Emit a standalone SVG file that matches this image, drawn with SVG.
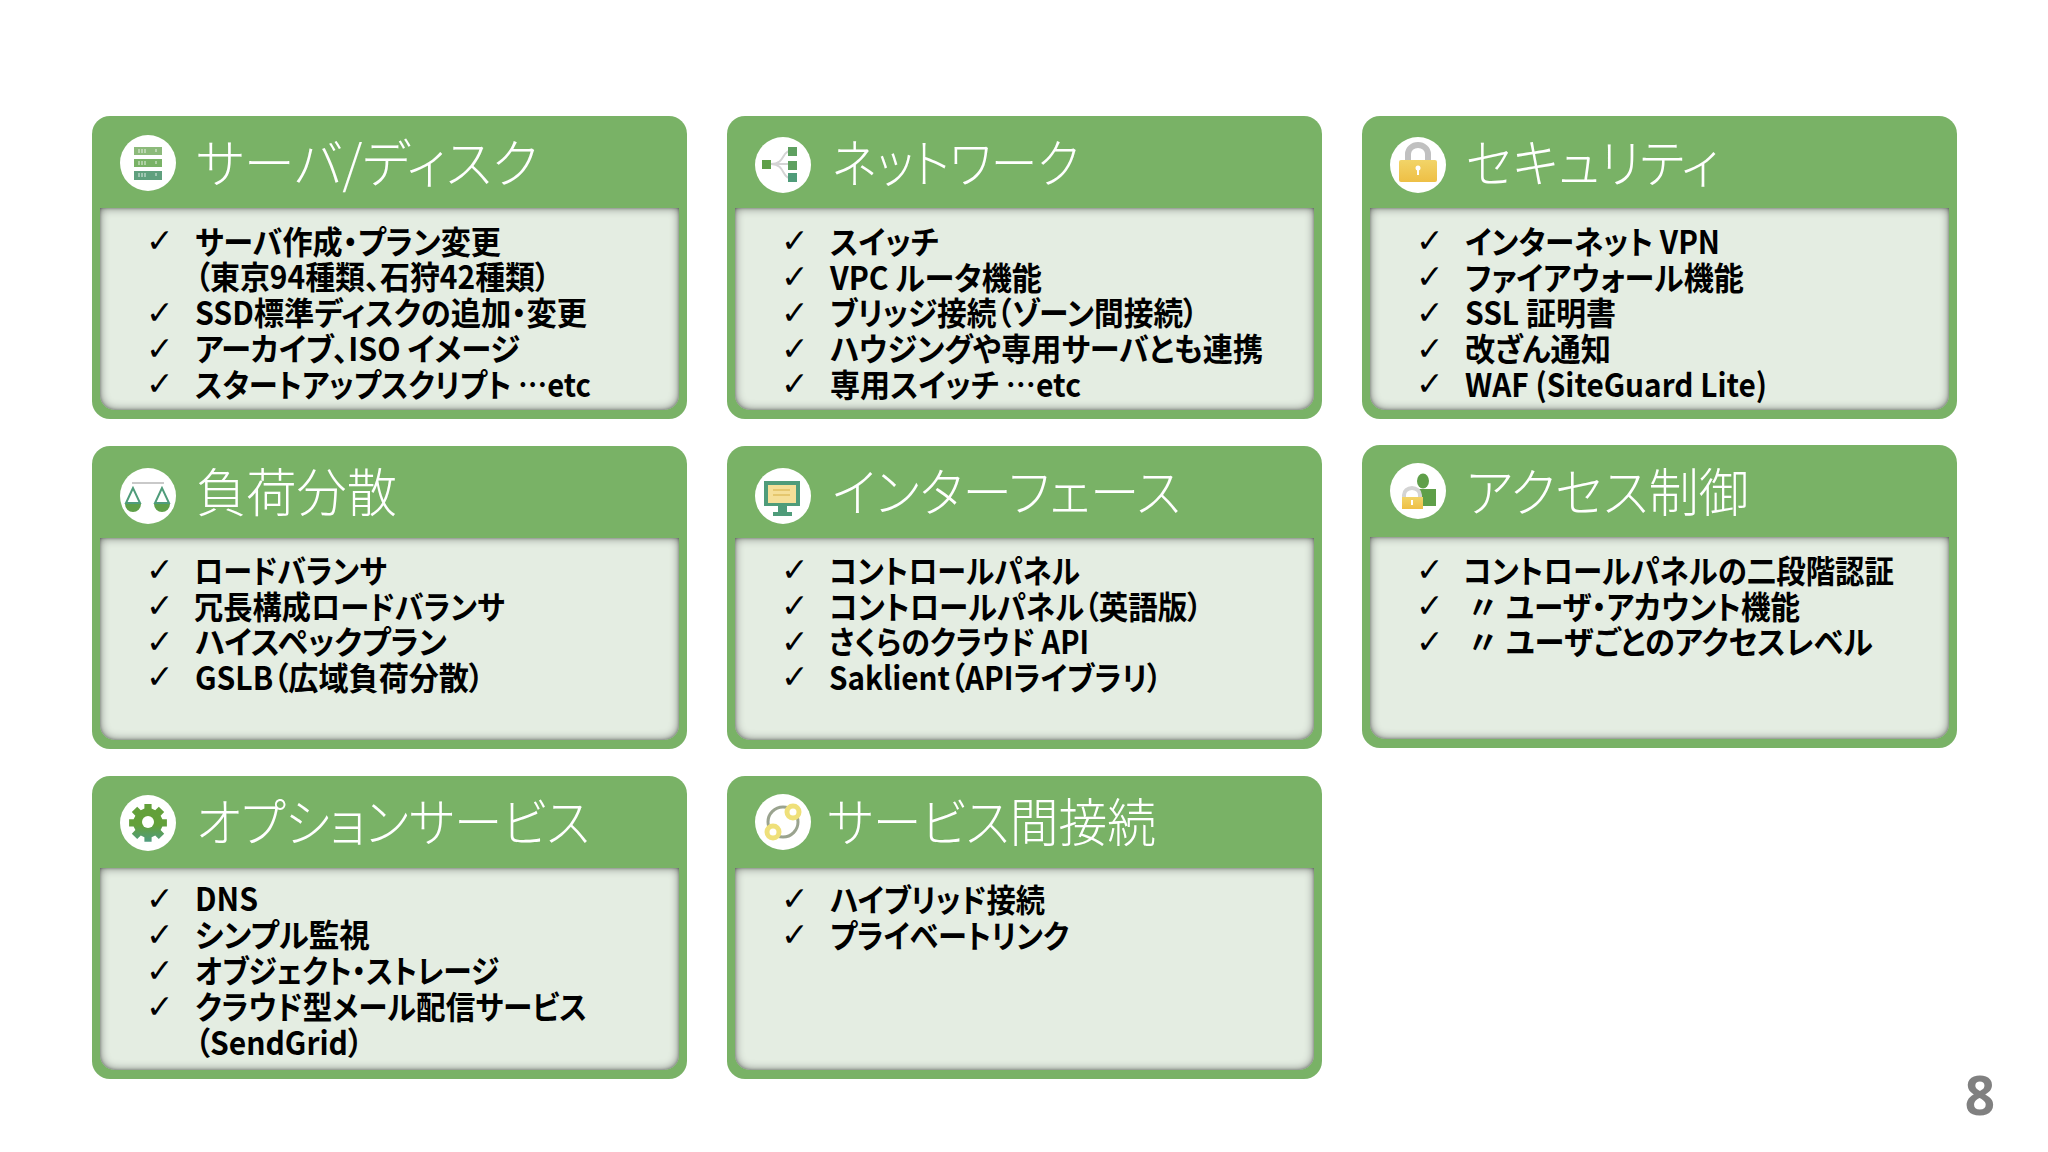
<svg xmlns="http://www.w3.org/2000/svg" width="2048" height="1152" viewBox="0 0 2048 1152" lang="ja">
<style>
text{font-family:"Noto Sans CJK JP","Noto Sans",sans-serif;font-feature-settings:"palt"}
.t{font-size:52px;font-weight:300;fill:#fff}
.i{font-size:32px;font-weight:700;fill:#000}
.c{font-size:33px;font-family:"DejaVu Sans",sans-serif;fill:#000}
.h{fill:#79b266}
.p{fill:#e4ede2}
.w{fill:#fff}
.g1{fill:#5f9f49}
.g2{fill:#4f9c7a}
.l{fill:none;stroke:#d4d4d4;stroke-width:2}
</style>
<defs>
<filter id="inset" x="-5%" y="-10%" width="110%" height="120%">
<feFlood flood-color="#1e1e1e" flood-opacity="1" result="f"/>
<feComposite in="f" in2="SourceAlpha" operator="out" result="o"/>
<feGaussianBlur in="o" stdDeviation="5" result="b"/>
<feComposite in="b" in2="SourceAlpha" operator="in" result="s"/>
<feGaussianBlur in="o" stdDeviation="1.500" result="b2"/>
<feComposite in="b2" in2="SourceAlpha" operator="in" result="s2"/>
<feComponentTransfer in="s2" result="s3"><feFuncA type="linear" slope="0.55"/></feComponentTransfer>
<feMerge><feMergeNode in="SourceGraphic"/><feMergeNode in="s"/><feMergeNode in="s3"/></feMerge>
</filter>
<linearGradient id="gear" x1="0" y1="0" x2="0" y2="1"><stop offset="0" stop-color="#63a03a"/><stop offset=".55" stop-color="#63a03a"/><stop offset="1" stop-color="#509c80"/></linearGradient>
<linearGradient id="lock" x1="0" y1="0" x2="0" y2="1"><stop offset="0" stop-color="#f2d468"/><stop offset="1" stop-color="#eebf45"/></linearGradient>
<g id="card">
<rect class="h" x="0" y="0" width="595" height="303" rx="18"/>
<path class="p" filter="url(#inset)" d="M8 92H587V279a15 15 0 0 1-15 15H23a15 15 0 0 1-15-15Z"/>
</g>
</defs>

<g id="connectors"/>

<g id="server-disk">
<use href="#card" x="92" y="116"/>
<circle class="w" cx="148" cy="163" r="28"/>
<rect x="134" y="147" width="28" height="8" fill="#8cba7a"/><rect x="134" y="159" width="28" height="8" fill="#79b266"/><rect x="134" y="171" width="28" height="9" fill="#5fa07e"/>
<path d="M139 149v4M142 149v4M145 149v4M156 149v3M139 161v4M142 161v4M145 161v4M156 161v3M139 173v4M142 173v4M145 173v4M156 173v3" stroke="#fff" stroke-width="1" opacity=".8"/>
<text class="t" x="196" y="183" textLength="342" lengthAdjust="spacingAndGlyphs">サーバ/ディスク</text>
<text class="c" x="146" y="252">✓</text><text class="c" x="146" y="324">✓</text><text class="c" x="146" y="360">✓</text><text class="c" x="146" y="395">✓</text>
<text class="i" x="195" y="254" textLength="306" lengthAdjust="spacingAndGlyphs">サーバ作成・プラン変更</text>
<text class="i" x="195" y="289" textLength="355" lengthAdjust="spacingAndGlyphs">（東京94種類、石狩42種類）</text>
<text class="i" x="195" y="325" textLength="392" lengthAdjust="spacingAndGlyphs">SSD標準ディスクの追加・変更</text>
<text class="i" x="195" y="361" textLength="325" lengthAdjust="spacingAndGlyphs">アーカイブ、ISO イメージ</text>
<text class="i" x="195" y="397" textLength="396" lengthAdjust="spacingAndGlyphs">スタートアップスクリプト …etc</text>
</g>

<g id="network">
<use href="#card" x="727" y="116"/>
<circle class="w" cx="783" cy="165" r="28"/>
<path class="l" d="M771 164C785 164 782 151 790 151M771 164H790M771 164C785 164 782 178 790 178"/>
<rect class="g1" x="762" y="160" width="9" height="9"/><rect fill="#5fa060" x="788" y="147" width="9" height="9"/><rect fill="#5fa060" x="788" y="161" width="9" height="9"/><rect class="g2" x="788" y="173" width="9" height="9"/>
<text class="t" x="832" y="183" textLength="247" lengthAdjust="spacingAndGlyphs">ネットワーク</text>
<text class="c" x="781" y="252">✓</text><text class="c" x="781" y="288">✓</text><text class="c" x="781" y="324">✓</text><text class="c" x="781" y="360">✓</text><text class="c" x="781" y="395">✓</text>
<text class="i" x="830" y="254" textLength="109" lengthAdjust="spacingAndGlyphs">スイッチ</text>
<text class="i" x="830" y="290" textLength="212" lengthAdjust="spacingAndGlyphs">VPC ルータ機能</text>
<text class="i" x="830" y="325" textLength="368" lengthAdjust="spacingAndGlyphs">ブリッジ接続（ゾーン間接続）</text>
<text class="i" x="830" y="361" textLength="433" lengthAdjust="spacingAndGlyphs">ハウジングや専用サーバとも連携</text>
<text class="i" x="830" y="397" textLength="251" lengthAdjust="spacingAndGlyphs">専用スイッチ …etc</text>
</g>

<g id="security">
<use href="#card" x="1362" y="116"/>
<circle class="w" cx="1418" cy="165" r="28"/>
<path d="M1408 167V154a10 9 0 0 1 20 0V167" fill="none" stroke="#c0c0c0" stroke-width="6"/>
<rect fill="url(#lock)" x="1399" y="160" width="38" height="22" rx="2"/><circle cx="1418" cy="168" r="2.500" class="w"/><rect class="w" x="1417" y="169" width="2" height="6"/>
<text class="t" x="1466" y="183" textLength="253" lengthAdjust="spacingAndGlyphs">セキュリティ</text>
<text class="c" x="1416" y="252">✓</text><text class="c" x="1416" y="288">✓</text><text class="c" x="1416" y="324">✓</text><text class="c" x="1416" y="360">✓</text><text class="c" x="1416" y="395">✓</text>
<text class="i" x="1465" y="254" textLength="255" lengthAdjust="spacingAndGlyphs">インターネット VPN</text>
<text class="i" x="1465" y="290" textLength="279" lengthAdjust="spacingAndGlyphs">ファイアウォール機能</text>
<text class="i" x="1465" y="325" textLength="151" lengthAdjust="spacingAndGlyphs">SSL 証明書</text>
<text class="i" x="1465" y="361" textLength="146" lengthAdjust="spacingAndGlyphs">改ざん通知</text>
<text class="i" x="1465" y="397" textLength="302" lengthAdjust="spacingAndGlyphs">WAF (SiteGuard Lite)</text>
</g>

<g id="load-balance">
<use href="#card" x="92" y="446"/>
<circle class="w" cx="148" cy="496" r="28"/>
<path d="M132 483H164" stroke="#c9c9c9" stroke-width="2" fill="none"/><path d="M133 488L126 503H140ZM162 488L155 503H169Z" fill="none" stroke="#4f9c7a" stroke-width="2"/>
<path class="g1" d="M125 504H141A8 8 0 0 1 125 504ZM154 504H170A8 8 0 0 1 154 504Z"/>
<text class="t" x="196" y="512" textLength="201" lengthAdjust="spacingAndGlyphs">負荷分散</text>
<text class="c" x="146" y="581">✓</text><text class="c" x="146" y="617">✓</text><text class="c" x="146" y="653">✓</text><text class="c" x="146" y="688">✓</text>
<text class="i" x="194" y="583" textLength="193" lengthAdjust="spacingAndGlyphs">ロードバランサ</text>
<text class="i" x="194" y="619" textLength="311" lengthAdjust="spacingAndGlyphs">冗長構成ロードバランサ</text>
<text class="i" x="195" y="654" textLength="252" lengthAdjust="spacingAndGlyphs">ハイスペックプラン</text>
<text class="i" x="195" y="690" textLength="289" lengthAdjust="spacingAndGlyphs">GSLB（広域負荷分散）</text>
</g>

<g id="interface">
<use href="#card" x="727" y="446"/>
<circle class="w" cx="783" cy="496" r="28"/>
<rect x="764" y="481" width="36" height="25" fill="#4f9c7a"/><rect x="768" y="485" width="28" height="18" fill="#f5df98"/><path d="M773 490H790M773 495H790" stroke="#e0c060" stroke-width="1.500"/><rect x="778" y="506" width="9" height="6" fill="#4f9c7a"/><rect x="773" y="512" width="19" height="4" fill="#4f9c7a"/>
<text class="t" x="832" y="512" textLength="349" lengthAdjust="spacingAndGlyphs">インターフェース</text>
<text class="c" x="781" y="581">✓</text><text class="c" x="781" y="617">✓</text><text class="c" x="781" y="653">✓</text><text class="c" x="781" y="688">✓</text>
<text class="i" x="829" y="583" textLength="251" lengthAdjust="spacingAndGlyphs">コントロールパネル</text>
<text class="i" x="829" y="619" textLength="373" lengthAdjust="spacingAndGlyphs">コントロールパネル（英語版）</text>
<text class="i" x="829" y="654" textLength="260" lengthAdjust="spacingAndGlyphs">さくらのクラウド API</text>
<text class="i" x="829" y="690" textLength="333" lengthAdjust="spacingAndGlyphs">Saklient（APIライブラリ）</text>
</g>

<g id="access-control">
<use href="#card" x="1362" y="445"/>
<circle class="w" cx="1418" cy="491" r="28"/>
<ellipse class="g1" cx="1423" cy="481" rx="6" ry="7.500"/><path class="g1" d="M1418 489H1436V506H1422Z"/>
<path d="M1404 499V495a8 7 0 0 1 16 0V499" fill="none" stroke="#d4d4d4" stroke-width="4"/><rect fill="url(#lock)" x="1402" y="497" width="21" height="12"/><rect class="w" x="1411" y="500" width="2" height="5"/>
<text class="t" x="1466" y="512" textLength="283" lengthAdjust="spacingAndGlyphs">アクセス制御</text>
<text class="c" x="1416" y="581">✓</text><text class="c" x="1416" y="617">✓</text><text class="c" x="1416" y="653">✓</text>
<text class="i" x="1463" y="583" textLength="431" lengthAdjust="spacingAndGlyphs">コントロールパネルの二段階認証</text>
<text class="i" x="1467" y="619">〃</text><text class="i" x="1506" y="619" textLength="294" lengthAdjust="spacingAndGlyphs">ユーザ・アカウント機能</text>
<text class="i" x="1467" y="654">〃</text><text class="i" x="1506" y="654" textLength="367" lengthAdjust="spacingAndGlyphs">ユーザごとのアクセスレベル</text>
</g>

<g id="option">
<use href="#card" x="92" y="776"/>
<circle class="w" cx="148" cy="823" r="28"/>
<path fill="url(#gear)" transform="translate(148 822) scale(.9) translate(-148 -823)" d="M144 803h8v5l4 2 4-4 6 6-4 4 2 4h5v8h-5l-2 4 4 4-6 6-4-4-4 2v5h-8v-5l-4-2-4 4-6-6 4-4-2-4h-5v-8h5l2-4-4-4 6-6 4 4 4-2Z"/><circle class="w" cx="148" cy="822" r="6"/>
<text class="t" x="196" y="842" textLength="394" lengthAdjust="spacingAndGlyphs">オプションサービス</text>
<text class="c" x="146" y="910">✓</text><text class="c" x="146" y="946">✓</text><text class="c" x="146" y="982">✓</text><text class="c" x="146" y="1018">✓</text>
<text class="i" x="195" y="911" textLength="63" lengthAdjust="spacingAndGlyphs">DNS</text>
<text class="i" x="195" y="947" textLength="175" lengthAdjust="spacingAndGlyphs">シンプル監視</text>
<text class="i" x="195" y="983" textLength="304" lengthAdjust="spacingAndGlyphs">オブジェクト・ストレージ</text>
<text class="i" x="195" y="1019" textLength="392" lengthAdjust="spacingAndGlyphs">クラウド型メール配信サービス</text>
<text class="i" x="195" y="1055" textLength="168" lengthAdjust="spacingAndGlyphs">（SendGrid）</text>
</g>

<g id="service-link">
<use href="#card" x="727" y="776"/>
<circle class="w" cx="783" cy="822" r="28"/>
<circle cx="783" cy="822" r="15" fill="none" stroke="#9aa38f" stroke-width="3"/><circle cx="773" cy="832" r="6" fill="#fff" stroke="#efe07a" stroke-width="5"/><circle cx="793" cy="812" r="6" fill="#fff" stroke="#efe07a" stroke-width="5"/>
<text class="t" x="827" y="842" textLength="329" lengthAdjust="spacingAndGlyphs">サービス間接続</text>
<text class="c" x="781" y="910">✓</text><text class="c" x="781" y="946">✓</text>
<text class="i" x="830" y="912" textLength="215" lengthAdjust="spacingAndGlyphs">ハイブリッド接続</text>
<text class="i" x="830" y="948" textLength="239" lengthAdjust="spacingAndGlyphs">プライベートリンク</text>
</g>

<text id="page" x="1980" y="1115" text-anchor="middle" style="font-family:'Noto Sans',sans-serif;font-size:53px;font-weight:700;fill:#808080">8</text>
</svg>
